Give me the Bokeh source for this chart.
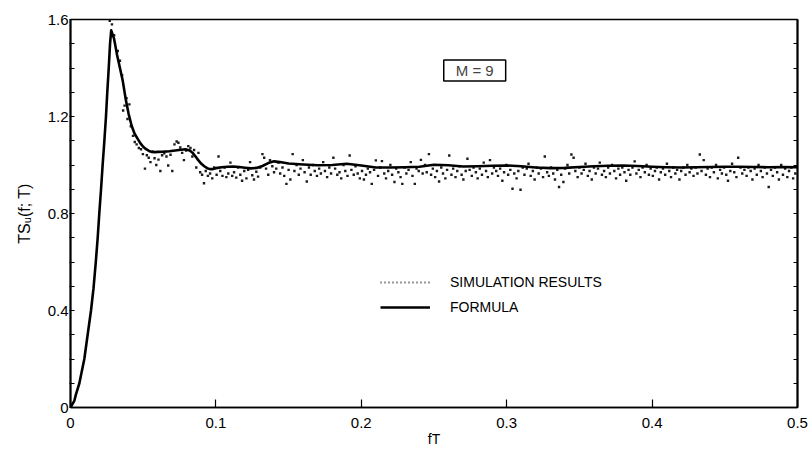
import math
from bokeh.plotting import figure
from bokeh.models import (Range1d, FixedTicker, LinearAxis, Label, Legend, LegendItem,
                          ColumnDataSource)
from bokeh.embed import file_html
from bokeh.resources import INLINE

# ---------------- data ----------------
formula_fT = [0, 0.0026, 0.0038, 0.0061, 0.0095, 0.0118, 0.0141, 0.0158, 0.0174, 0.0187,
              0.0198, 0.021, 0.0221, 0.0233, 0.0244, 0.0253, 0.0263, 0.0272, 0.0280,
              0.030, 0.032, 0.034, 0.036, 0.038,
              0.040, 0.042, 0.044, 0.046, 0.048, 0.050, 0.052, 0.054, 0.056, 0.058,
              0.060, 0.064, 0.068, 0.072, 0.076, 0.079, 0.082, 0.084, 0.086, 0.088,
              0.090, 0.092, 0.094, 0.096, 0.098, 0.100, 0.104, 0.108, 0.112, 0.116,
              0.120, 0.124, 0.128, 0.132, 0.136, 0.140, 0.144, 0.150, 0.160, 0.170,
              0.180, 0.190, 0.200, 0.210, 0.220, 0.230, 0.240, 0.250, 0.260, 0.270,
              0.280, 0.290, 0.300, 0.310, 0.320, 0.330, 0.340, 0.350, 0.360, 0.370,
              0.380, 0.390, 0.400, 0.410, 0.420, 0.430, 0.440, 0.450, 0.460, 0.470,
              0.480, 0.490, 0.500]
formula_TS = [0, 0.027, 0.055, 0.10, 0.20, 0.30, 0.40, 0.49, 0.60, 0.70,
              0.80, 0.90, 1.00, 1.10, 1.20, 1.30, 1.40, 1.50, 1.555,
              1.52, 1.455, 1.40, 1.345, 1.27,
              1.21, 1.163, 1.13, 1.11, 1.09, 1.075, 1.065, 1.058, 1.054, 1.053,
              1.054, 1.055, 1.057, 1.06, 1.063, 1.065, 1.06, 1.05, 1.035, 1.019,
              1.005, 0.995, 0.987, 0.983, 0.983, 0.987, 0.991, 0.993, 0.994, 0.992,
              0.989, 0.986, 0.988, 0.996, 1.008, 1.015, 1.012, 1.006, 1.002, 0.999,
              1.0, 1.005, 0.998, 0.99, 0.99, 0.991, 0.993, 1.001, 0.999, 0.994,
              0.995, 0.997, 0.998, 0.995, 0.99, 0.987, 0.988, 0.992, 0.995, 0.997,
              0.998, 0.996, 0.993, 0.991, 0.99, 0.991, 0.992, 0.993, 0.993, 0.992,
              0.991, 0.992, 0.991]

sim_fT = [0.027, 0.0285, 0.030, 0.0325, 0.034, 0.0355, 0.0362, 0.0372, 0.0385, 0.0392,
          0.0405, 0.0415, 0.043, 0.0442, 0.0455, 0.047, 0.0485, 0.0498, 0.0512, 0.0525,
          0.0538, 0.055, 0.0565, 0.0578, 0.059, 0.0605, 0.0618, 0.063, 0.0645, 0.066,
          0.0672, 0.0688, 0.070, 0.0715, 0.073, 0.0742, 0.0755, 0.0768, 0.078, 0.0795,
          0.081, 0.0825, 0.0838, 0.085, 0.0865, 0.088, 0.0892, 0.0905, 0.0918, 0.093,
          0.0945, 0.096, 0.0975, 0.0988,
          0.1005, 0.1018, 0.103, 0.1045, 0.106, 0.1072, 0.1085, 0.110, 0.1112, 0.1125,
          0.114, 0.1152, 0.1168, 0.118, 0.1195, 0.121, 0.1222, 0.1235, 0.125, 0.1262,
          0.1278, 0.129, 0.1305, 0.132, 0.1332, 0.1345, 0.136, 0.1372, 0.1388, 0.140,
          0.1415, 0.143, 0.1442, 0.1458, 0.147, 0.1485, 0.150, 0.1512, 0.1528, 0.154,
          0.1555, 0.157, 0.1582, 0.1598, 0.161, 0.1625, 0.164, 0.1652, 0.1668, 0.168,
          0.1695, 0.171, 0.1722, 0.1738, 0.175, 0.1765, 0.178, 0.1792, 0.1808, 0.182,
          0.1835, 0.185, 0.1862, 0.1878, 0.189, 0.1905, 0.192, 0.1932, 0.1948, 0.196,
          0.1975, 0.199, 0.2005, 0.2018, 0.2032, 0.2045, 0.206, 0.2072, 0.2088, 0.210,
          0.2115, 0.213, 0.2142, 0.2158, 0.217, 0.2185, 0.220, 0.2212, 0.2228, 0.224,
          0.2255, 0.227, 0.2282, 0.2298, 0.231, 0.2325, 0.234, 0.2352, 0.2368, 0.238,
          0.2395, 0.241, 0.2422, 0.2438, 0.245, 0.2465, 0.248, 0.2492, 0.2508, 0.252,
          0.2535, 0.255, 0.2562, 0.2578, 0.259, 0.2605, 0.262, 0.2632, 0.2648, 0.266,
          0.2675, 0.269, 0.2702, 0.2718, 0.273, 0.2745, 0.276, 0.2772, 0.2788, 0.280,
          0.2815, 0.283, 0.2842, 0.2858, 0.287, 0.2885, 0.290, 0.2912, 0.2928, 0.294,
          0.2955, 0.297, 0.2982, 0.2998, 0.301, 0.3025, 0.304, 0.3052, 0.3068, 0.308,
          0.3095, 0.311, 0.3122, 0.3138, 0.315, 0.3165, 0.318, 0.3192, 0.3208, 0.322,
          0.3235, 0.325, 0.3262, 0.3278, 0.329, 0.3305, 0.332, 0.3332, 0.3348, 0.336,
          0.3375, 0.339, 0.3402, 0.3418, 0.343, 0.3445, 0.346, 0.3472, 0.3488, 0.350,
          0.3515, 0.353, 0.3542, 0.3558, 0.357, 0.3585, 0.360, 0.3612, 0.3628, 0.364,
          0.3655, 0.367, 0.3682, 0.3698, 0.371, 0.3725, 0.374, 0.3752, 0.3768, 0.378,
          0.3795, 0.381, 0.3822, 0.3838, 0.385, 0.3865, 0.388, 0.3892, 0.3908, 0.392,
          0.3935, 0.395, 0.3962, 0.3978, 0.399, 0.4005, 0.402, 0.4032, 0.4048, 0.406,
          0.4075, 0.409, 0.4102, 0.4118, 0.413, 0.4145, 0.416, 0.4172, 0.4188, 0.420,
          0.4215, 0.423, 0.4242, 0.4258, 0.427, 0.4285, 0.430, 0.4312, 0.4328, 0.434,
          0.4355, 0.437, 0.4382, 0.4398, 0.441, 0.4425, 0.444, 0.4452, 0.4468, 0.448,
          0.4495, 0.451, 0.4522, 0.4538, 0.455, 0.4565, 0.458, 0.4592, 0.4608, 0.462,
          0.4635, 0.465, 0.4662, 0.4678, 0.469, 0.4705, 0.472, 0.4732, 0.4748, 0.476,
          0.4775, 0.479, 0.4802, 0.4818, 0.483, 0.4845, 0.486, 0.4872, 0.4888, 0.490,
          0.4915, 0.493, 0.4942, 0.4958, 0.497, 0.4985]
sim_TS = [1.595, 1.58, 1.535, 1.47, 1.43, 1.37, 1.225, 1.245, 1.275, 1.19,
          1.25, 1.16, 1.12, 1.095, 1.085, 1.07, 1.065, 1.045, 0.985, 1.04,
          1.03, 1.012, 1.055, 1.028, 1.0, 1.022, 0.975, 1.04, 1.048, 1.035,
          0.998, 1.042, 0.975, 1.085, 1.097, 1.092, 1.072, 1.05, 1.02, 1.06,
          1.078, 1.07, 1.035, 1.062, 0.99, 1.05, 0.97, 0.96, 0.925, 0.975,
          0.955, 0.965, 0.945, 0.99,
          0.96, 1.035, 0.975, 0.955, 0.99, 0.95, 0.965, 1.01, 0.955, 0.97,
          0.948, 0.99, 0.96, 0.935, 0.975, 0.945, 0.98, 1.012, 0.958, 0.94,
          0.972, 0.952, 0.99, 1.045, 1.03, 0.985, 0.96, 1.02, 0.995, 0.97,
          0.985, 1.01, 0.965, 0.99, 0.955, 0.922, 0.98, 0.94, 1.045, 0.975,
          1.0, 0.96, 0.985, 1.02, 0.97, 0.932, 0.99, 0.96, 1.0, 0.975,
          0.955, 0.985, 0.965, 1.012, 0.975, 0.95, 0.99, 0.965, 1.03, 0.985,
          0.96, 0.97, 0.945, 1.0, 0.975, 0.955, 1.039, 0.98, 0.96, 0.995,
          0.965, 0.945, 0.975, 0.94, 0.96, 0.985, 0.97, 0.922, 0.98, 1.019,
          0.955, 0.99, 1.016, 0.965, 0.945, 0.975, 1.0, 0.96, 0.93, 0.985,
          0.97, 0.95, 0.922, 0.99, 0.965, 0.98, 1.012, 0.955, 0.922, 0.985,
          0.975, 1.021, 0.965, 1.0, 0.97, 1.045, 0.96, 0.985, 0.95, 0.975,
          0.932, 0.99, 0.965, 0.945, 0.98, 1.039, 0.96, 0.985, 0.95, 0.975,
          0.995, 0.96, 0.94, 0.975, 1.026, 0.98, 0.955, 0.99, 0.97, 0.945,
          0.985, 0.96, 1.01, 0.975, 0.95, 1.02, 0.965, 0.99, 0.975, 0.955,
          0.985, 0.935, 0.97, 1.0, 0.96, 0.98, 0.902, 0.965, 0.945, 0.975,
          0.898, 0.99, 0.96, 0.985, 1.005, 0.955, 0.975, 0.94, 0.99, 0.965,
          0.985, 0.95, 1.035, 0.97, 0.955, 0.99, 0.965, 0.94, 0.98, 0.909,
          0.96, 0.93, 0.985, 1.0, 0.965, 1.043, 1.03, 0.975, 0.95, 0.99,
          0.965, 0.98, 1.005, 0.955, 0.975, 0.94, 0.99, 0.965, 0.985, 1.01,
          0.96, 0.975, 0.95, 0.99, 0.965, 1.0, 0.975, 0.945, 0.985, 0.96,
          0.99, 0.97, 0.935, 0.98, 0.96, 0.99, 1.015, 0.965, 0.98, 0.95,
          0.99, 0.97, 1.0, 0.96, 0.985, 0.955, 0.975, 0.99, 0.94, 0.97,
          0.985, 0.96, 1.005, 0.975, 0.95, 0.99, 0.965, 0.98, 0.94, 0.975,
          0.99, 0.96, 1.0, 0.97, 0.985, 0.955, 0.99, 0.965, 1.043, 0.975,
          1.02, 0.96, 0.985, 0.95, 0.99, 0.97, 1.0, 0.945, 0.98, 0.965,
          0.99, 0.96, 0.935, 0.975, 1.005, 0.97, 0.95, 1.03, 0.99, 0.965,
          0.98, 0.955, 0.99, 0.975, 0.94, 0.985, 0.96, 1.0, 0.975, 0.95,
          0.99, 0.965, 0.909, 0.98, 0.955, 0.99, 0.97, 0.94, 1.0, 0.96,
          0.985, 0.95, 0.975, 0.99, 0.945, 0.965]

x_ticks = [0, 0.1, 0.2, 0.3, 0.4, 0.5]
y_ticks = [0, 0.4, 0.8, 1.2, 1.6]
y_minor = [0.1, 0.2, 0.3, 0.5, 0.6, 0.7, 0.9, 1.0, 1.1, 1.3, 1.4, 1.5]
right_minor = [0.1, 0.2, 0.3, 0.4, 0.5, 0.6, 0.7, 0.8, 0.9, 1.0, 1.1, 1.2, 1.3, 1.4, 1.5]

FONT = "Liberation Sans"

# ---------------- figure ----------------
p = figure(width=810, height=450, output_backend="svg", toolbar_location=None,
           x_range=Range1d(0, 0.5), y_range=Range1d(0, 1.6),
           min_border_left=70, min_border_right=13, min_border_top=19, min_border_bottom=43,
           background_fill_color="white", border_fill_color="white")
p.grid.visible = False
p.outline_line_color = "black"
p.outline_line_width = 1.5

xa = p.xaxis[0]
xa.ticker = FixedTicker(ticks=x_ticks, minor_ticks=[])
xa.major_tick_in = 8
xa.major_tick_out = 0
xa.minor_tick_in = 0
xa.minor_tick_out = 0
xa.axis_line_width = 1.5
xa.major_tick_line_width = 1.2
xa.major_label_standoff = 10
xa.major_label_text_font = FONT
xa.major_label_text_font_size = "15px"
xa.major_label_text_color = "black"
xa.axis_label = "fT"
xa.axis_label_standoff = 0
xa.axis_label_text_font = FONT
xa.axis_label_text_font_size = "14px"
xa.axis_label_text_font_style = "normal"
xa.axis_label_text_color = "black"

ya = p.yaxis[0]
ya.ticker = FixedTicker(ticks=y_ticks, minor_ticks=y_minor)
ya.major_tick_in = 4
ya.major_tick_out = 1
ya.minor_tick_in = 4
ya.minor_tick_out = 1
ya.axis_line_width = 2
ya.major_tick_line_width = 1.2
ya.minor_tick_line_width = 1.2
ya.major_label_standoff = 1
ya.major_label_text_font = FONT
ya.major_label_text_font_size = "15px"
ya.major_label_text_color = "black"
ya.axis_label = "TS\u1d64(f; T)"
ya.axis_label_standoff = 12
ya.axis_label_text_font = FONT
ya.axis_label_text_font_size = "16px"
ya.axis_label_text_font_style = "normal"
ya.axis_label_text_color = "black"

ra = LinearAxis(ticker=FixedTicker(ticks=[], minor_ticks=right_minor))
ra.minor_tick_in = 4
ra.minor_tick_out = 0
ra.major_tick_in = 0
ra.major_tick_out = 0
ra.axis_line_width = 2
ra.minor_tick_line_width = 1.2
ra.major_label_text_font_size = "0px"
ra.major_label_standoff = 0
p.add_layout(ra, "right")

# ---------------- data renderers ----------------
sim_src = ColumnDataSource(dict(x=sim_fT, y=sim_TS))
sim_r = p.scatter("x", "y", source=sim_src, marker="square", size=2.4,
                  color="#1a1a1a", line_width=0)

form_src = ColumnDataSource(dict(x=formula_fT, y=formula_TS))
form_r = p.line("x", "y", source=form_src, line_width=2.6, color="black",
                line_join="round")

# legend sample for the simulation (dotted line, no visible data)
sim_leg = p.line(x=[float("nan")], y=[float("nan")], line_dash="1 3",
                 line_width=2, color="#333333")

legend = Legend(items=[LegendItem(label="SIMULATION RESULTS", renderers=[sim_leg]),
                       LegendItem(label="FORMULA", renderers=[form_r])],
                location=(310, 90), border_line_color=None, background_fill_alpha=0,
                label_text_font=FONT, label_text_font_size="14px",
                label_text_color="black",
                glyph_width=50, glyph_height=20, label_height=20,
                label_standoff=20, spacing=5, padding=0, margin=0)
p.add_layout(legend)

# ---------------- texts ----------------
p.add_layout(Label(x=0.278, y=1.39, text="M = 9", text_align="center",
                   text_baseline="middle", text_font=FONT, text_font_size="15px",
                   border_line_color="black", border_line_width=1.5,
                   background_fill_color="white",
                   padding=dict(left=12, right=12, top=2, bottom=2)))

open("out.html", "w").write(file_html(p, INLINE))
